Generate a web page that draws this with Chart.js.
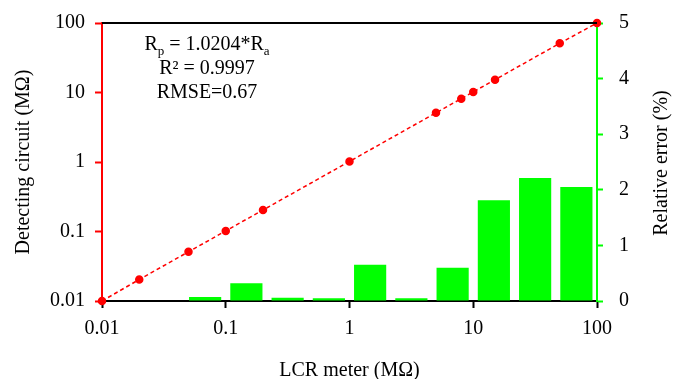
<!DOCTYPE html>
<html>
<head>
<meta charset="utf-8">
<script src="https://cdn.jsdelivr.net/npm/chart.js@4"></script>
<style>
  html, body { margin: 0; padding: 0; background: #fff; }
  #wrap { width: 673px; height: 379px; }
</style>
</head>
<body>
<div id="wrap"><canvas id="lcr_chart"></canvas></div>
<script>
// LCR meter reading vs detecting circuit reading (MΩ)
const lcrValues = [0.01, 0.02, 0.05, 0.1, 0.2, 1, 5, 8, 10, 15, 50, 100];
const circuitValues = [0.01, 0.0204, 0.051, 0.102, 0.204, 1.02, 5.1, 8.16, 10.2, 15.3, 51, 100];
// relative error of each measurement (%)
const errorLabels = ['0.01', '0.02', '0.05', '0.1', '0.2', '1', '5', '8', '10', '15', '50', '100'];
const errorValues = [0.01, 0.01, 0.07, 0.32, 0.06, 0.05, 0.65, 0.05, 0.6, 1.81, 2.21, 2.05];
const logTicks = [0.01, 0.1, 1, 10, 100];
const errorTicks = [0, 1, 2, 3, 4, 5];

const SERIF = '"Liberation Serif", "Times New Roman", serif';
const RED = '#ff0000';
const GREEN = '#00ff00';

const fixedTicks = (vals) => (scale) => { scale.ticks = vals.map(v => ({value: v})); };
// fixed width for the side axes, no extra label padding above/below
const sideWidth = (w) => (scale) => { scale.width = w; scale.paddingTop = 0; scale.paddingBottom = 0; };

// frame line on top, fit statistics, right axis title
const extras = {
  id: 'extras',
  afterDraw(chart) {
    const {ctx, chartArea: a} = chart;
    ctx.save();
    ctx.strokeStyle = '#000';
    ctx.lineWidth = 2;
    ctx.beginPath();
    ctx.moveTo(a.left, a.top);
    ctx.lineTo(a.right, a.top);
    ctx.stroke();

    ctx.fillStyle = '#000';
    ctx.textBaseline = 'alphabetic';
    const cx = 207;
    // line 1: Rp = 1.0204*Ra with subscripts
    const big = '20px ' + SERIF, small = '13px ' + SERIF;
    const parts = [['R', big, 0], ['p', small, 5], [' = 1.0204*R', big, 0], ['a', small, 5]];
    let w = 0;
    parts.forEach(p => { ctx.font = p[1]; w += ctx.measureText(p[0]).width; });
    let x = cx - w / 2;
    ctx.textAlign = 'left';
    parts.forEach(p => { ctx.font = p[1]; ctx.fillText(p[0], x, 50 + p[2]); x += ctx.measureText(p[0]).width; });
    ctx.textAlign = 'center';
    ctx.font = big;
    ctx.fillText('R² = 0.9997', cx, 74);
    ctx.fillText('RMSE=0.67', cx, 98);

    // right axis title, reading bottom to top
    ctx.translate(662, 163);
    ctx.rotate(-Math.PI / 2);
    ctx.textBaseline = 'middle';
    ctx.fillText('Relative error (%)', 0, 0);
    ctx.restore();
  }
};

new Chart(document.getElementById('lcr_chart'), {
  type: 'bar',
  data: {
    labels: errorLabels,
    datasets: [{
      type: 'bar',
      data: errorValues,
      xAxisID: 'xc',
      yAxisID: 'yr',
      backgroundColor: GREEN,
      borderWidth: 0,
      barPercentage: 0.78,
      categoryPercentage: 1,
      grouped: false,
      order: 1
    }, {
      type: 'line',
      data: lcrValues.map((v, i) => ({x: v, y: circuitValues[i]})),
      xAxisID: 'x',
      yAxisID: 'y',
      borderColor: RED,
      borderWidth: 1.5,
      borderDash: [4, 3],
      pointBackgroundColor: RED,
      pointBorderColor: RED,
      pointRadius: 3.5,
      fill: false,
      clip: false,
      order: 0
    }]
  },
  options: {
    responsive: true,
    maintainAspectRatio: false,
    animation: false,
    layout: {padding: {top: 23, left: 0, right: 0, bottom: 0}},
    plugins: {legend: {display: false}, tooltip: {enabled: false}},
    scales: {
      xc: {
        type: 'category',
        display: false,
        offset: true
      },
      x: {
        type: 'logarithmic',
        position: 'bottom',
        min: 0.01,
        max: 100,
        offset: false,
        afterBuildTicks: fixedTicks(logTicks),
        afterFit: (s) => { s.height = 78; },
        border: {color: '#000', width: 2},
        grid: {offset: false, drawOnChartArea: false, drawTicks: true, tickLength: 7, tickColor: '#000', tickWidth: 2},
        ticks: {color: '#000', font: {family: SERIF, size: 20}, padding: 9, maxRotation: 0,
          callback: (v) => String(v)},
        title: {display: true, text: 'LCR meter (MΩ)', color: '#000',
          font: {family: SERIF, size: 20, lineHeight: 0.85}, padding: {top: 0, bottom: 0}}
      },
      y: {
        type: 'logarithmic',
        position: 'left',
        min: 0.01,
        max: 100,
        afterBuildTicks: fixedTicks(logTicks),
        afterFit: sideWidth(102),
        border: {color: RED, width: 2},
        grid: {drawOnChartArea: false, drawTicks: true, tickLength: 7, tickColor: RED, tickWidth: 2},
        ticks: {color: '#000', font: {family: SERIF, size: 20}, padding: 10,
          callback: (v) => String(v)},
        title: {display: true, text: 'Detecting circuit (MΩ)', color: '#000',
          font: {family: SERIF, size: 20, lineHeight: 1}, padding: {top: 14, bottom: 0}}
      },
      yr: {
        type: 'linear',
        position: 'right',
        min: 0,
        max: 5,
        afterBuildTicks: fixedTicks(errorTicks),
        afterFit: sideWidth(76),
        border: {color: GREEN, width: 2},
        grid: {drawOnChartArea: false, drawTicks: true, tickLength: 6, tickColor: GREEN, tickWidth: 2},
        ticks: {color: '#000', font: {family: SERIF, size: 20}, padding: 16}
      }
    }
  },
  plugins: [extras]
});
</script>
</body>
</html>
